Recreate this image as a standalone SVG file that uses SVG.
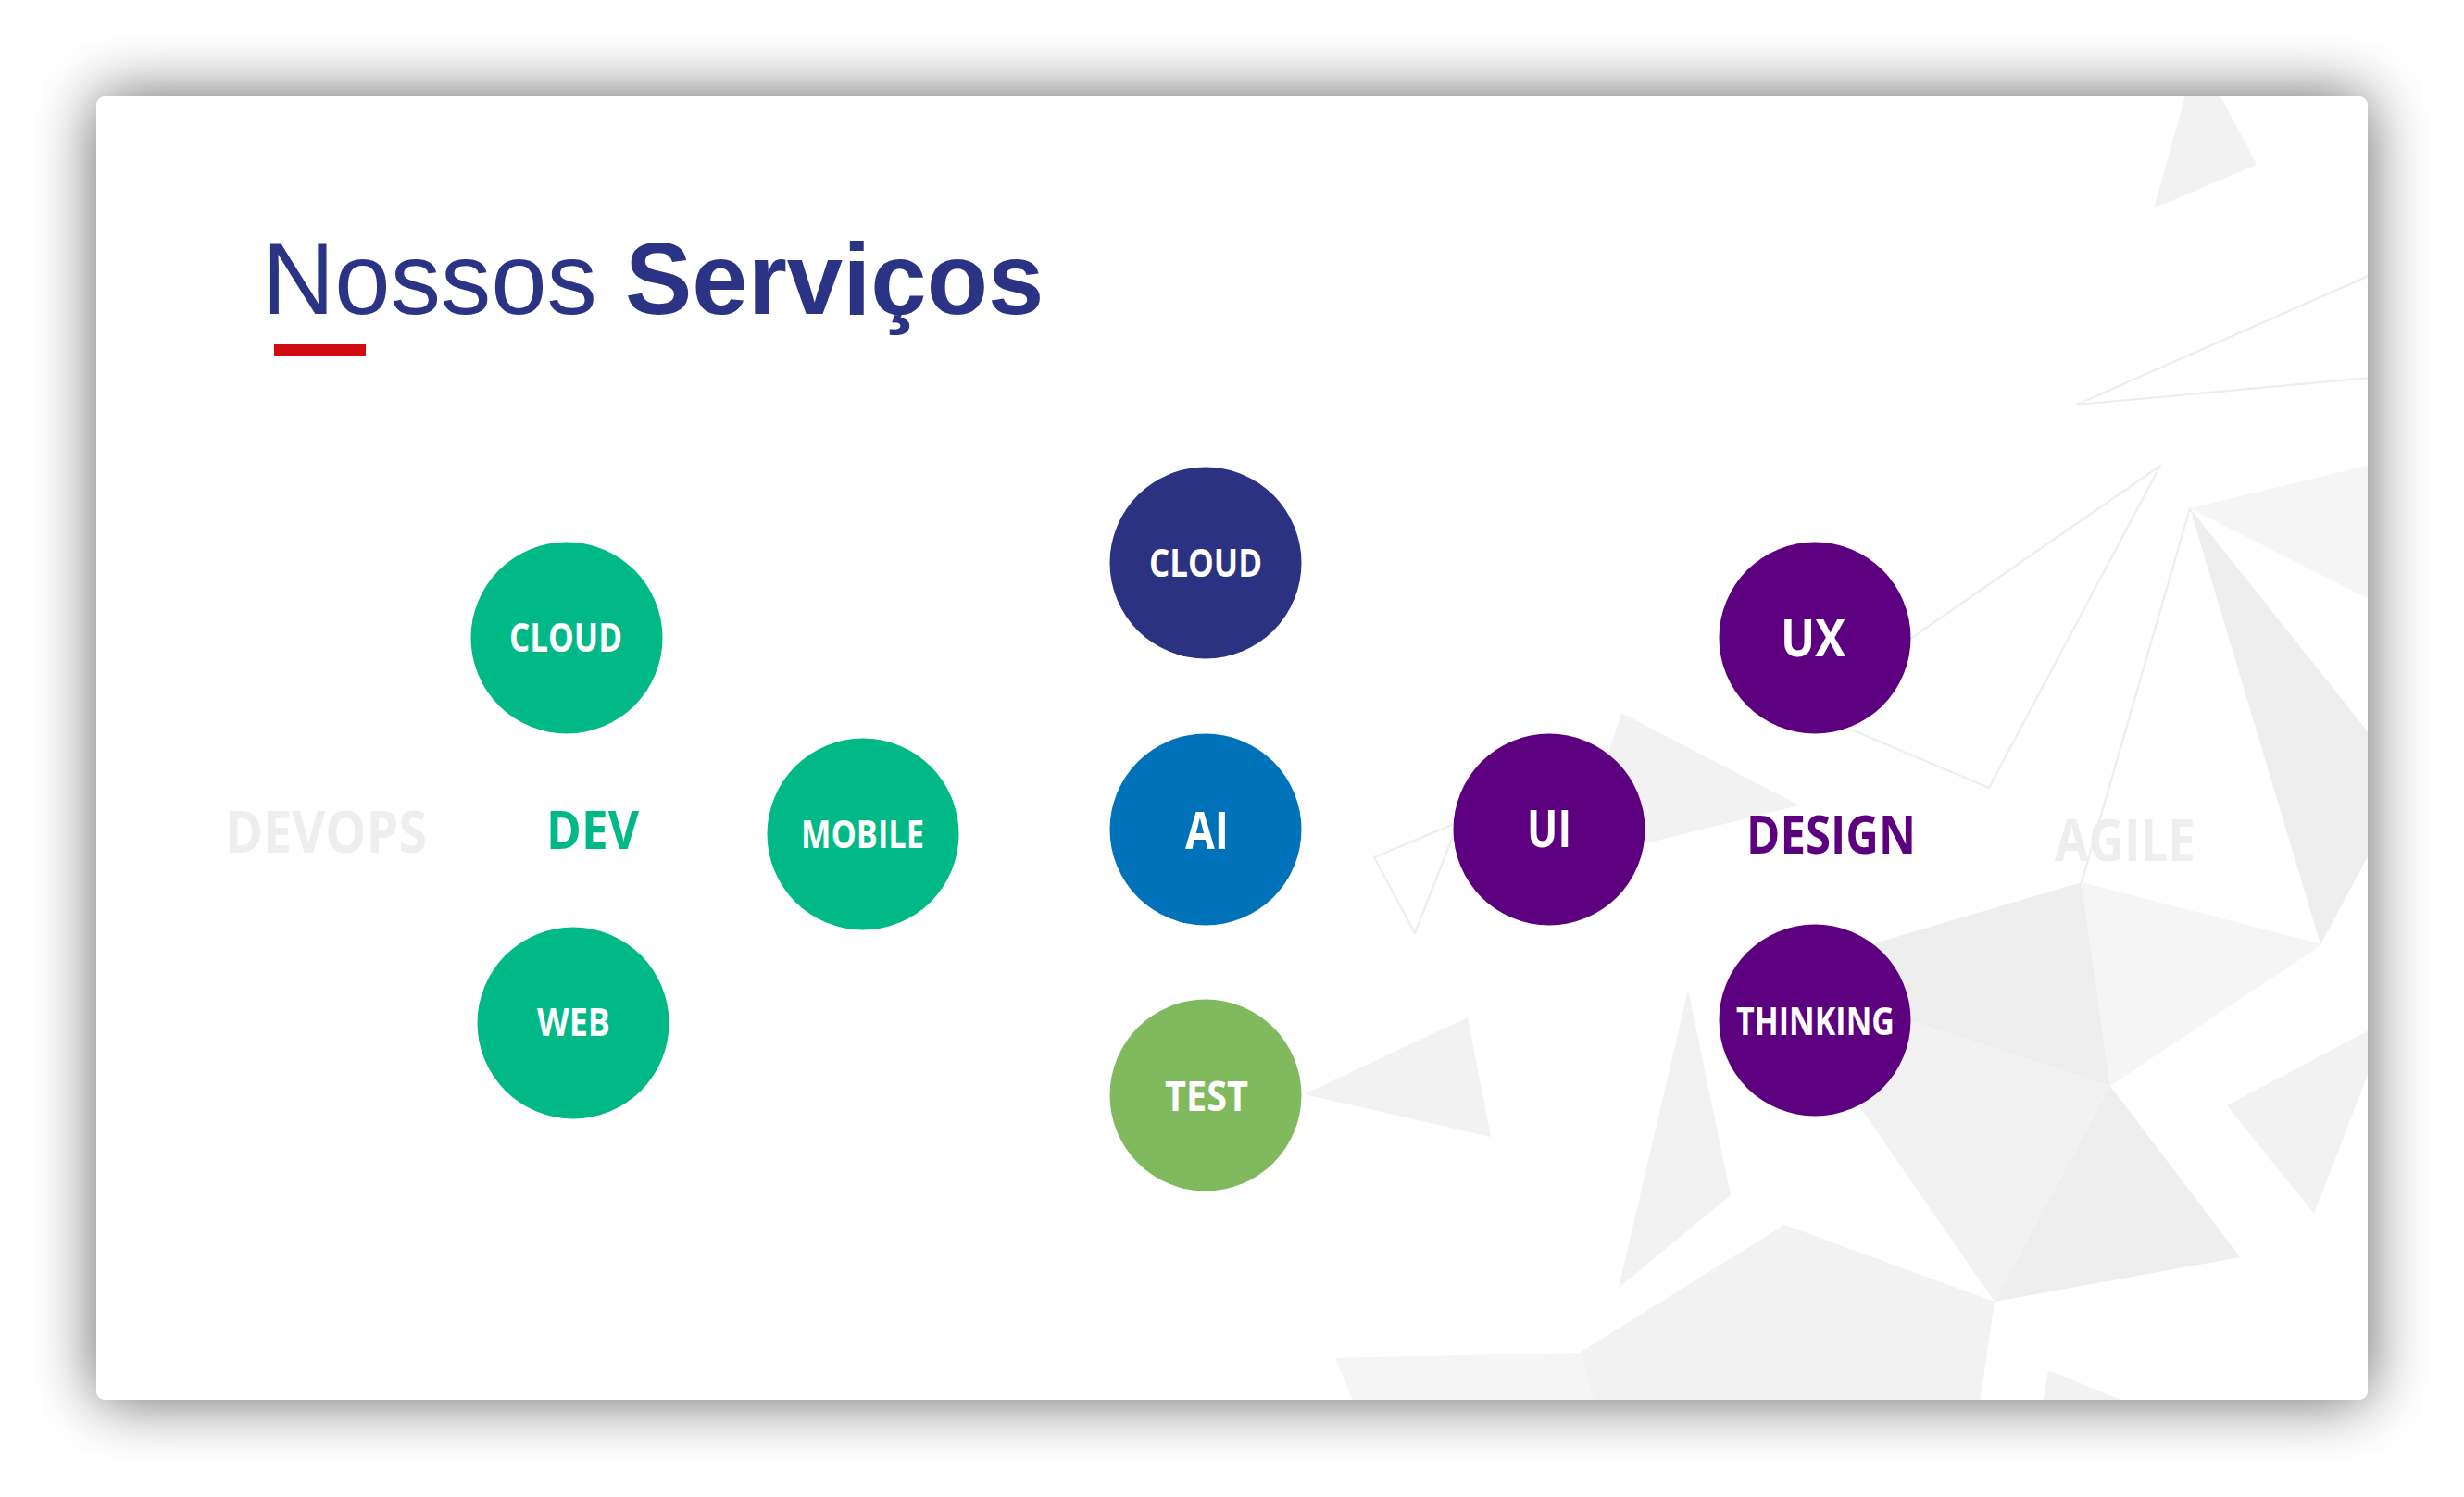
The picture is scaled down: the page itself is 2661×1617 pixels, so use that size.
<svg xmlns="http://www.w3.org/2000/svg" width="2661" height="1617" viewBox="0 0 2661 1617">
  <defs>
    <filter id="cardShadow" x="-10%" y="-15%" width="120%" height="130%">
      <feGaussianBlur stdDeviation="34"/>
    </filter>
    <clipPath id="cardClip">
      <rect x="104" y="104" width="2453" height="1408" rx="9"/>
    </clipPath>
    <style>
      .facet { fill: #f2f2f2; }
      .facet-l { fill: #f5f5f5; }
      .facet-d { fill: #eeeeee; }
      .edge { fill: none; stroke: #eeeeee; stroke-width: 2.2; stroke-linejoin: round; }
      .lbl { font-family: "Open Sans", "DejaVu Sans", sans-serif; font-weight: 700; fill: #ffffff; }
      .word { font-family: "Open Sans", "DejaVu Sans", sans-serif; font-weight: 700; }
      .green { fill: #00b987; }
      .navy { fill: #2b3282; }
      .blue { fill: #0072b9; }
      .lime { fill: #81ba5e; }
      .purple { fill: #5c0080; }
    </style>
  </defs>

  <!-- page backdrop and soft card shadow -->
  <rect width="2661" height="1617" fill="#ffffff"/>
  <rect x="104" y="104" width="2453" height="1408" rx="9" fill="#000" opacity="0.62" filter="url(#cardShadow)"/>
  <rect x="104" y="104" width="2453" height="1408" rx="9" fill="#ffffff"/>

  <!-- low-poly background facets -->
  <g id="background" clip-path="url(#cardClip)">
    <polygon class="facet" points="2361,100 2396,100 2437,178 2326,225"/>
    <polygon class="edge" points="2560,297 2243,437 2560,408"/>
    <polyline class="edge" points="1985,782 2148,851 2333,503 2040,706"/>
    <line class="edge" x1="2365" y1="549" x2="2248" y2="953"/>
    <polygon class="facet-l" points="2365,549 2560,502 2560,648"/>
    <polygon class="facet-d" points="2365,549 2560,794 2560,920 2506,1020"/>
    <polygon class="facet-d" points="1990,1029 2248,953 2279,1173 2030,1092"/>
    <polygon class="facet-l" points="2248,953 2508,1020 2279,1173"/>
    <polygon class="facet" points="2030,1092 2279,1173 2154,1406 1995,1176"/>
    <polygon class="facet-d" points="2279,1173 2419,1358 2154,1406"/>
    <polygon class="facet" points="2405,1194 2560,1112 2560,1153 2499,1311"/>
    <polygon class="facet" points="2212,1480 2300,1516 2206,1516"/>
    <polygon class="facet-l" points="1442,1467 1706,1461 1722,1516 1462,1516"/>
    <polygon class="facet" points="1706,1461 1927,1323 2154,1406 2138,1516 1722,1516"/>
    <polygon class="facet" points="1823,1069 1869,1291 1748,1391"/>
    <polygon class="facet" points="1408,1182 1585,1099 1610,1228"/>
    <polygon class="facet" points="1751,770 1943,870 1700,930"/>
    <polygon class="edge" points="1484,926 1575,888 1528,1008"/>
  </g>

  <!-- heading -->
  <g id="title">
    <text x="283" y="339" font-family="'Liberation Sans', Arial, sans-serif" font-size="108.5" fill="#2b3384">Nossos <tspan font-weight="700">Serviços</tspan></text>
    <rect x="296" y="372" width="99" height="12" fill="#d20a11"/>
  </g>

  <!-- group captions -->
  <g id="devops"><text class="word" x="243" y="921" font-size="63" fill="#eeeeee" textLength="218" lengthAdjust="spacingAndGlyphs">DEVOPS</text></g>
  <g id="dev"><text class="word" x="590" y="917" font-size="57" fill="#00b987" textLength="100" lengthAdjust="spacingAndGlyphs">DEV</text></g>
  <g id="design"><text class="word" x="1886" y="922" font-size="58" fill="#5c0080" textLength="183" lengthAdjust="spacingAndGlyphs">DESIGN</text></g>
  <g id="agile"><text class="word" x="2219" y="930" font-size="62" fill="#eeeeee" textLength="152" lengthAdjust="spacingAndGlyphs">AGILE</text></g>

  <!-- service bubbles -->
  <g id="dev-cloud">
    <circle class="green" cx="612" cy="689" r="103.5"/>
    <text class="lbl" x="550" y="704" font-size="43" textLength="122" lengthAdjust="spacingAndGlyphs">CLOUD</text>
  </g>
  <g id="dev-mobile">
    <circle class="green" cx="932" cy="901" r="103.5"/>
    <text class="lbl" x="865" y="916" font-size="42" textLength="133" lengthAdjust="spacingAndGlyphs">MOBILE</text>
  </g>
  <g id="dev-web">
    <circle class="green" cx="619" cy="1105" r="103.5"/>
    <text class="lbl" x="580" y="1119" font-size="41" textLength="79" lengthAdjust="spacingAndGlyphs">WEB</text>
  </g>
  <g id="cloud">
    <circle class="navy" cx="1302" cy="608" r="103.5"/>
    <text class="lbl" x="1241" y="623" font-size="42" textLength="122" lengthAdjust="spacingAndGlyphs">CLOUD</text>
  </g>
  <g id="ai">
    <circle class="blue" cx="1302" cy="896" r="103.5"/>
    <text class="lbl" x="1280" y="917" font-size="55" textLength="47" lengthAdjust="spacingAndGlyphs">AI</text>
  </g>
  <g id="test">
    <circle class="lime" cx="1302" cy="1183" r="103.5"/>
    <text class="lbl" x="1258" y="1200" font-size="45" textLength="90" lengthAdjust="spacingAndGlyphs">TEST</text>
  </g>
  <g id="ui">
    <circle class="purple" cx="1673" cy="896" r="103.5"/>
    <text class="lbl" x="1649" y="915" font-size="56" textLength="48" lengthAdjust="spacingAndGlyphs">UI</text>
  </g>
  <g id="ux">
    <circle class="purple" cx="1960" cy="689" r="103.5"/>
    <text class="lbl" x="1923" y="709" font-size="56" textLength="70" lengthAdjust="spacingAndGlyphs">UX</text>
  </g>
  <g id="thinking">
    <circle class="purple" cx="1960" cy="1102" r="103.5"/>
    <text class="lbl" x="1875" y="1118" font-size="42" textLength="171" lengthAdjust="spacingAndGlyphs">THINKING</text>
  </g>

  <g id="connectors"/>
</svg>
